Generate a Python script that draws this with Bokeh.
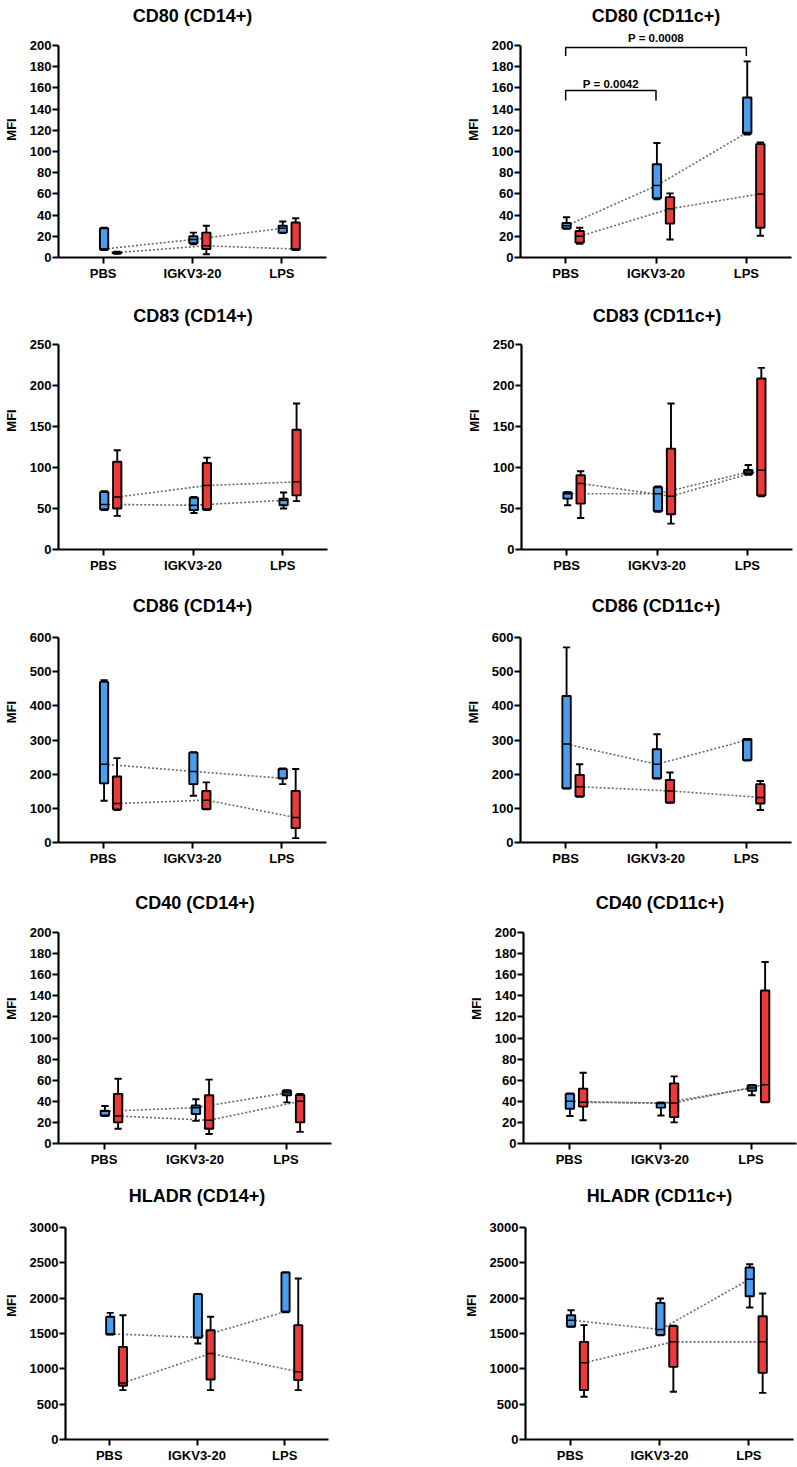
from bokeh.plotting import figure
from bokeh.models import FactorRange, Range1d, FixedTicker, ColumnDataSource
from bokeh.transform import dodge
from bokeh.layouts import column, row
from bokeh.embed import file_html
from bokeh.resources import INLINE
from bokeh.core.properties import value

CATS = ["PBS", "IGKV3-20", "LPS"]

# each entry: [whisker low, Q1, median, Q3, whisker high] for PBS, IGKV3-20, LPS
cd80_14_blue = [[7, 7.5, 8, 27.5, 28], [12.5, 13.5, 17, 20, 23.5], [23, 23.5, 27.5, 30, 34]]
cd80_14_red = [[3.5, 4, 4.7, 5, 5.5], [3, 8, 11, 23.5, 30], [7, 7.5, 8, 33, 37]]
cd80_11_blue = [[27, 27.5, 30, 32.5, 38], [55, 56, 68, 88, 108], [116, 117, 118, 151, 185]]
cd80_11_red = [[13, 14, 20, 25, 28], [17, 32, 46, 57, 60.5], [20.5, 28, 60, 107, 108.5]]
cd83_14_blue = [[48, 49, 55, 70, 71], [44.5, 48, 54, 63, 64], [50, 54, 60, 62, 69.5]]
cd83_14_red = [[41, 50, 64, 107, 121], [48, 49, 78, 105.5, 112], [59, 66, 82.5, 146, 178]]
cd83_11_blue = [[54, 62, 68, 69.5, 70], [46, 47, 68, 76, 77], [91, 92, 94.5, 97, 103]]
cd83_11_red = [[38.5, 56, 80.5, 90.5, 95.5], [31.5, 43, 65, 123, 178], [65, 66, 96.5, 208.5, 221.5]]
cd86_14_blue = [[122, 173, 229, 470, 475], [137, 171, 208, 263, 264], [171, 187, 188, 215, 217]]
cd86_14_red = [[95, 97, 114, 193, 247], [97, 98, 124, 151, 176], [12.7, 42, 73, 151, 215]]
cd86_11_blue = [[158, 159, 288, 429, 571], [187, 188, 229, 273, 317], [240, 241, 300, 302, 303]]
cd86_11_red = [[134, 135, 163, 198, 229], [116, 117, 151, 183, 205], [95, 114, 132, 171, 180]]
cd40_14_blue = [[26, 26.5, 30.5, 31, 35.5], [21.4, 28, 34, 36, 42], [39, 45.7, 48, 50, 50.5]]
cd40_14_red = [[14, 20, 26, 47, 61.4], [9, 14, 22, 45.7, 60.5], [11, 20, 40, 46, 47]]
cd40_11_blue = [[26, 33, 40, 47, 47.5], [26.5, 34, 38, 38.4, 39], [45.7, 50, 52.6, 55, 55.5]]
cd40_11_red = [[22, 35, 39, 52, 67], [20, 25, 38.5, 57, 63.6], [39, 39.4, 55.8, 145, 172]]
hladr_14_blue = [[1485, 1490, 1495, 1736, 1792], [1358, 1440, 1445, 2057, 2060], [1800, 1807, 1810, 2363, 2365]]
hladr_14_red = [[698, 760, 800, 1311, 1759], [698, 849, 1217, 1547, 1736], [698, 840, 958, 1618, 2278]]
hladr_11_blue = [[1594, 1600, 1689, 1759, 1830], [1476, 1480, 1557, 1934, 1995], [1868, 2028, 2269, 2434, 2481]]
hladr_11_red = [[604, 698, 1085, 1382, 1618], [675, 1028, 1382, 1604, 1610], [660, 943, 1382, 1745, 2066]]

ticks_200 = [0, 20, 40, 60, 80, 100, 120, 140, 160, 180, 200]
ticks_250 = [0, 50, 100, 150, 200, 250]
ticks_600 = [0, 100, 200, 300, 400, 500, 600]
ticks_3000 = [0, 500, 1000, 1500, 2000, 2500, 3000]

titles = ["CD80 (CD14+)", "CD80 (CD11c+)", "CD83 (CD14+)", "CD83 (CD11c+)",
          "CD86 (CD14+)", "CD86 (CD11c+)", "CD40 (CD14+)", "CD40 (CD11c+)",
          "HLADR (CD14+)", "HLADR (CD11c+)"]

# significance brackets in CD80 (CD11c+)
pval_text = ["P = 0.0042", "P = 0.0008"]
pval_from = ["PBS", "PBS"]
pval_to = ["IGKV3-20", "LPS"]
pval_bar = [157.5, 198]
pval_leg = [148, 190]
pval_text_y = [163.5, 207]

BLUE = "#4a9ef0"
RED = "#ea3a3a"
FONT = "Liberation Sans"

panels = [
    (cd80_14_blue, cd80_14_red, ticks_200),
    (cd80_11_blue, cd80_11_red, ticks_200),
    (cd83_14_blue, cd83_14_red, ticks_250),
    (cd83_11_blue, cd83_11_red, ticks_250),
    (cd86_14_blue, cd86_14_red, ticks_600),
    (cd86_11_blue, cd86_11_red, ticks_600),
    (cd40_14_blue, cd40_14_red, ticks_200),
    (cd40_11_blue, cd40_11_red, ticks_200),
    (hladr_14_blue, hladr_14_red, ticks_3000),
    (hladr_11_blue, hladr_11_red, ticks_3000),
]

# layout (screen px)
ROWS = [  # fig top, axis max y, axis zero y, fig bottom, title centre
    (0, 45, 257, 290, 15),
    (290, 344, 549, 580, 315),
    (580, 637, 842, 872, 605),
    (872, 932, 1143, 1170, 902),
    (1170, 1227, 1439, 1467, 1195),
]
COLS = [  # fig left, fig right, frame right, frame lefts per row
    (0, 400, 325, [57, 56, 57, 52, 62]),
    (400, 797, 790, [519, 519, 519, 517, 522]),
]

BW = 0.093
CW = 0.08
OFF_B = 0.01
OFF_R = 0.155


def stats_source(stats):
    return ColumnDataSource(dict(
        cat=CATS,
        low=[s[0] for s in stats], q1=[s[1] for s in stats], med=[s[2] for s in stats],
        q3=[s[3] for s in stats], high=[s[4] for s in stats]))


def make_panel(i):
    blue, red, ticks = panels[i]
    r, c = divmod(i, 2)
    fig_top, ax_max_y, zero_y, fig_bot, title_c = ROWS[r]
    fig_left, fig_right, frame_right, flefts = COLS[c]
    frame_left = flefts[r]
    ymax = ticks[-1]
    ppu = (zero_y - ax_max_y) / ymax
    frame_top = fig_top + 1
    ytop = ymax + (ax_max_y - frame_top) / ppu
    fh = zero_y - frame_top
    fw = frame_right - frame_left

    p = figure(x_range=FactorRange(*CATS), y_range=Range1d(0, ytop),
               frame_width=fw, frame_height=fh,
               min_border_left=frame_left - fig_left, min_border_right=fig_right - frame_right,
               min_border_top=frame_top - fig_top, min_border_bottom=fig_bot - zero_y,
               output_backend="svg", toolbar_location=None)

    p.xgrid.visible = False
    p.ygrid.visible = False
    p.outline_line_color = None
    p.background_fill_color = "white"
    p.border_fill_color = "white"

    for ax in (p.xaxis[0], p.yaxis[0]):
        ax.axis_line_width = 2.2
        ax.axis_line_color = "black"
        ax.major_tick_line_width = 2
        ax.major_tick_line_color = "black"
        ax.major_tick_out = 6
        ax.major_tick_in = 0
        ax.minor_tick_line_color = None
        ax.major_label_text_font = FONT
        ax.major_label_text_font_style = "bold"
        ax.major_label_text_color = "black"

    ya = p.yaxis[0]
    ya.ticker = FixedTicker(ticks=ticks)
    ya.bounds = (0, ymax)
    ya.major_label_text_font_size = "13px"
    ya.major_label_standoff = 1
    ya.axis_label = "MFI"
    ya.axis_label_text_font = FONT
    ya.axis_label_text_font_size = "13px"
    ya.axis_label_text_font_style = "bold"
    ya.axis_label_text_color = "black"
    ya.axis_label_standoff = 8

    xa = p.xaxis[0]
    xa.major_label_text_font_size = "13px"
    xa.major_label_standoff = 2

    # title, drawn as text in the area above the axis
    title_y = ymax + (ax_max_y - title_c) / ppu
    tsrc = ColumnDataSource(dict(x=[CATS[1]], y=[title_y], t=[titles[i]]))
    p.text(x="x", y="y", text="t", source=tsrc, text_font=value(FONT),
           text_font_size="18px", text_font_style="bold", text_align="center",
           text_baseline="middle", text_color="black")

    sb = stats_source(blue)
    sr = stats_source(red)

    # dotted lines connecting medians
    for src, off in ((sb, OFF_B), (sr, OFF_R)):
        p.line(x=dodge("cat", off, range=p.x_range), y="med", source=src,
               line_color="#6a6a6a", line_width=1.6, line_dash="2 2")

    for src, off, col in ((sb, OFF_B, BLUE), (sr, OFF_R, RED)):
        xc = dodge("cat", off, range=p.x_range)
        p.segment(x0=xc, y0="low", x1=xc, y1="high", source=src,
                  line_color="black", line_width=1.9)
        for fld in ("low", "high"):
            p.segment(x0=dodge("cat", off - CW / 2, range=p.x_range), y0=fld,
                      x1=dodge("cat", off + CW / 2, range=p.x_range), y1=fld,
                      source=src, line_color="black", line_width=1.9)
        p.vbar(x=xc, width=BW, bottom="q1", top="q3", source=src,
               fill_color=col, line_color="black", line_width=1.9)
        p.segment(x0=dodge("cat", off - BW / 2, range=p.x_range), y0="med",
                  x1=dodge("cat", off + BW / 2, range=p.x_range), y1="med",
                  source=src, line_color="black", line_width=1.5)

    if i == 1:
        for k in range(len(pval_text)):
            a, b = pval_from[k], pval_to[k]
            p.line(x=[a, a, b, b], y=[pval_leg[k], pval_bar[k], pval_bar[k], pval_leg[k]],
                   line_color="black", line_width=1.5)
            half = (CATS.index(b) - CATS.index(a)) / 2
            ts = ColumnDataSource(dict(x=[a], y=[pval_text_y[k]], t=[pval_text[k]]))
            p.text(x=dodge("x", half, range=p.x_range), y="y", text="t", source=ts,
                   text_font=value(FONT), text_font_size="11.5px", text_font_style="bold",
                   text_align="center", text_baseline="middle", text_color="black")
    return p


figs = [make_panel(i) for i in range(10)]
layout = column(*[row(figs[2 * k], figs[2 * k + 1]) for k in range(5)])

open("out.html", "w").write(file_html(layout, INLINE))
